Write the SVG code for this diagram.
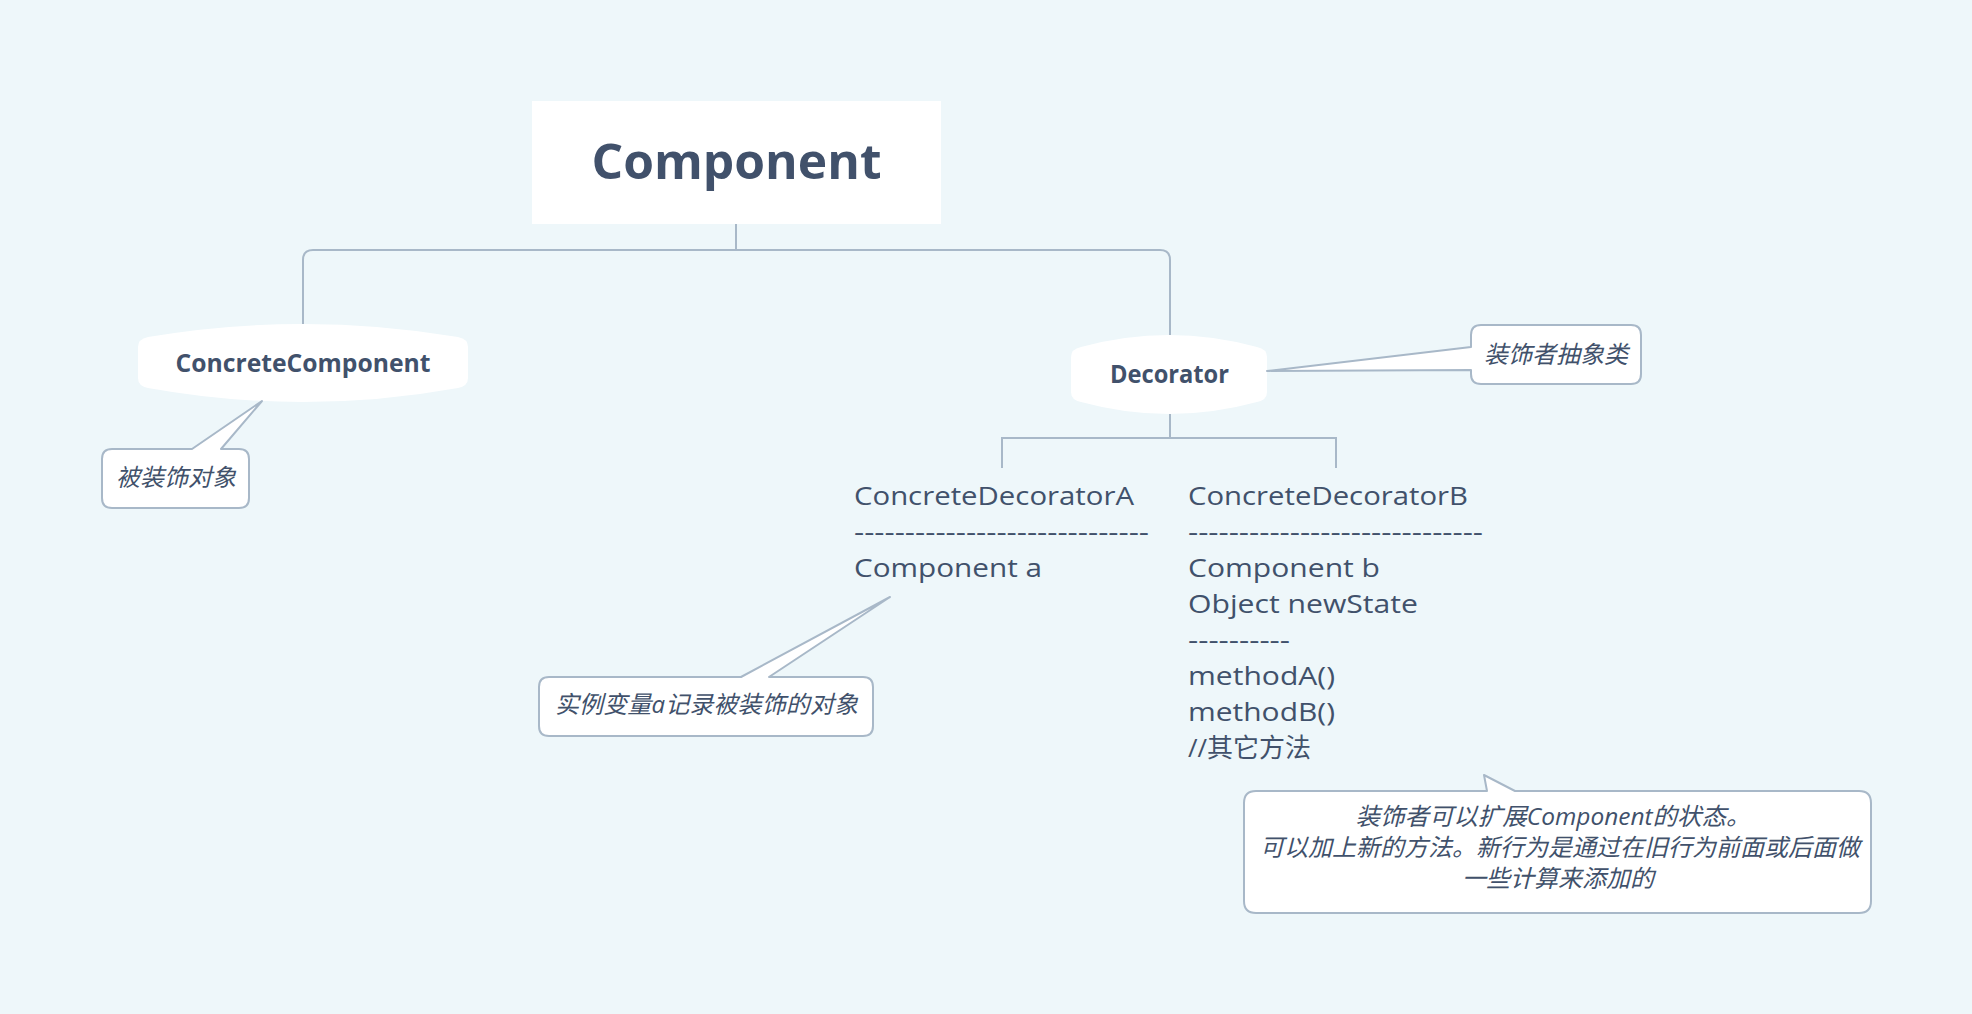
<svg xmlns="http://www.w3.org/2000/svg" width="1972" height="1014" viewBox="0 0 1972 1014">
<style>
.bg{fill:#eef7fa}
.node{fill:#ffffff}
.conn{fill:none;stroke:#a8b8c8;stroke-width:2}
.callout{fill:#ffffff;stroke:#a8b8c8;stroke-width:2;stroke-linejoin:round}
.title{font-family:"Open Sans","Noto Sans CJK SC",sans-serif;font-weight:700;fill:#41516b}
.body{font-family:"Open Sans","Noto Sans CJK SC",sans-serif;font-size:26px;fill:#41516b}
.note{font-family:"Open Sans","Noto Sans CJK SC",sans-serif;font-size:24px;font-style:italic;fill:#41516b}
</style>
<rect class="bg" x="0" y="0" width="1972" height="1014"/>

<g id="connectors">
  <path class="conn" d="M736,224 V250"/>
  <path class="conn" d="M303,324 V260 Q303,250 313,250 H1160 Q1170,250 1170,260 V335"/>
  <path class="conn" d="M1170,414 V438"/>
  <path class="conn" d="M1002,468 V438 H1336 V468"/>
</g>

<g id="component">
  <rect class="node" x="532" y="101" width="409" height="123"/>
  <text class="title" x="736.5" y="179" font-size="48" text-anchor="middle" textLength="290" lengthAdjust="spacingAndGlyphs">Component</text>
</g>

<g id="concrete-component">
  <path class="node" d="M148,337 Q303,311 458,337 Q468,339 468,347 V378 Q468,386 458,388 Q303,416 148,388 Q138,386 138,378 V347 Q138,339 148,337 Z"/>
  <text class="title" x="303" y="372" font-size="25" text-anchor="middle" textLength="255" lengthAdjust="spacingAndGlyphs">ConcreteComponent</text>
</g>

<g id="note-concrete-component">
  <path class="callout" d="M112,449 H192 L262,401 L221,449 H239 Q249,449 249,459 V498 Q249,508 239,508 H112 Q102,508 102,498 V459 Q102,449 112,449 Z"/>
  <text class="note" x="176" y="486" text-anchor="middle">被装饰对象</text>
</g>

<g id="decorator">
  <path class="node" d="M1081,347 Q1169,323 1257,347 Q1267,349 1267,357 V392 Q1267,400 1257,402 Q1169,426 1081,402 Q1071,400 1071,392 V357 Q1071,349 1081,347 Z"/>
  <text class="title" x="1169.5" y="383" font-size="25" text-anchor="middle" textLength="119" lengthAdjust="spacingAndGlyphs">Decorator</text>
</g>

<g id="note-decorator">
  <path class="callout" d="M1481,325 H1631 Q1641,325 1641,335 V374 Q1641,384 1631,384 H1481 Q1471,384 1471,374 V370 L1267,371 L1471,347 V335 Q1471,325 1481,325 Z"/>
  <text class="note" x="1556" y="363" text-anchor="middle">装饰者抽象类</text>
</g>

<g id="concrete-decorator-a">
  <text class="body" x="854" y="505" textLength="280" lengthAdjust="spacingAndGlyphs">ConcreteDecoratorA</text>
  <text class="body" x="854" y="541" textLength="295" lengthAdjust="spacingAndGlyphs">-----------------------------</text>
  <text class="body" x="854" y="577" textLength="188" lengthAdjust="spacingAndGlyphs">Component a</text>
</g>

<g id="note-decorator-a">
  <path class="callout" d="M549,677 H741 L890,597 L769,677 H863 Q873,677 873,687 V726 Q873,736 863,736 H549 Q539,736 539,726 V687 Q539,677 549,677 Z"/>
  <text class="note" x="706.5" y="713" text-anchor="middle" textLength="303" lengthAdjust="spacing">实例变量a记录被装饰的对象</text>
</g>

<g id="concrete-decorator-b">
  <text class="body" x="1188" y="505" textLength="280" lengthAdjust="spacingAndGlyphs">ConcreteDecoratorB</text>
  <text class="body" x="1188" y="541" textLength="295" lengthAdjust="spacingAndGlyphs">-----------------------------</text>
  <text class="body" x="1188" y="577" textLength="192" lengthAdjust="spacingAndGlyphs">Component b</text>
  <text class="body" x="1188" y="613" textLength="230" lengthAdjust="spacingAndGlyphs">Object newState</text>
  <text class="body" x="1188" y="649" textLength="102" lengthAdjust="spacingAndGlyphs">----------</text>
  <text class="body" x="1188" y="685" textLength="147" lengthAdjust="spacingAndGlyphs">methodA()</text>
  <text class="body" x="1188" y="721" textLength="147" lengthAdjust="spacingAndGlyphs">methodB()</text>
  <text class="body" x="1188" y="757">//其它方法</text>
</g>

<g id="note-decorator-b">
  <path class="callout" d="M1256,791 H1487 L1484,775 L1515,791 H1859 Q1871,791 1871,803 V901 Q1871,913 1859,913 H1256 Q1244,913 1244,901 V803 Q1244,791 1256,791 Z"/>
  <text class="note" x="1553" y="825" text-anchor="middle" textLength="395" lengthAdjust="spacingAndGlyphs">装饰者可以扩展Component的状态。</text>
  <text class="note" x="1560" y="856" text-anchor="middle">可以加上新的方法。新行为是通过在旧行为前面或后面做</text>
  <text class="note" x="1558" y="887" text-anchor="middle">一些计算来添加的</text>
</g>
</svg>
